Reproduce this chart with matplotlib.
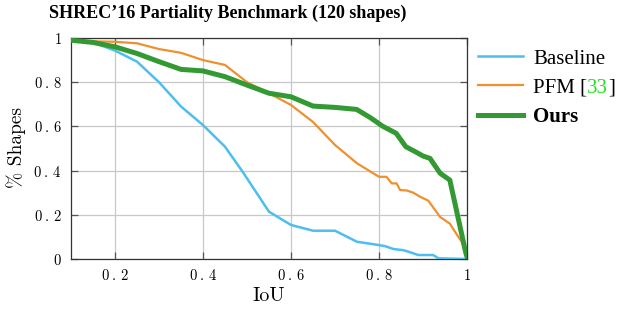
import matplotlib
matplotlib.use("Agg")
import matplotlib.pyplot as plt

plt.rcParams["mathtext.fontset"] = "cm"

iou_base = [0.10, 0.15, 0.20, 0.25, 0.30, 0.35, 0.40, 0.45, 0.49, 0.55, 0.60, 0.65, 0.70, 0.75, 0.80,
            0.814, 0.833, 0.855, 0.867, 0.889, 0.923, 0.935, 1.00]
val_base = [0.99, 0.98, 0.943, 0.893, 0.80, 0.69, 0.606, 0.508, 0.395, 0.214, 0.154, 0.128, 0.128, 0.078, 0.063,
            0.058, 0.045, 0.04, 0.033, 0.018, 0.018, 0.003, 0.0]

iou_pfm = [0.10, 0.15, 0.20, 0.25, 0.30, 0.35, 0.40, 0.45, 0.50, 0.55, 0.60, 0.65, 0.70, 0.75, 0.80,
           0.817, 0.829, 0.840, 0.848, 0.863, 0.878, 0.893, 0.912, 0.939, 0.961, 0.977, 0.988, 1.00]
val_pfm = [0.99, 0.985, 0.983, 0.976, 0.95, 0.933, 0.90, 0.878, 0.80, 0.75, 0.697, 0.62, 0.516, 0.433, 0.372,
           0.372, 0.342, 0.342, 0.312, 0.31, 0.30, 0.282, 0.264, 0.19, 0.16, 0.11, 0.078, 0.0]

iou_ours = [0.10, 0.15, 0.20, 0.25, 0.30, 0.35, 0.40, 0.45, 0.50, 0.55, 0.60, 0.65, 0.70, 0.749, 0.78,
            0.809, 0.839, 0.861, 0.882, 0.900, 0.916, 0.939, 0.961, 0.997, 1.00]
val_ours = [0.99, 0.98, 0.96, 0.93, 0.893, 0.858, 0.851, 0.825, 0.787, 0.75, 0.734, 0.692, 0.686, 0.677, 0.64,
            0.60, 0.569, 0.508, 0.486, 0.466, 0.455, 0.388, 0.357, 0.03, 0.01]

x_ticks = [0.2, 0.4, 0.6, 0.8, 1.0]
x_ticklabels = [r"$0\:.\:2$", r"$0\:.\:4$", r"$0\:.\:6$", r"$0\:.\:8$", r"$1$"]
y_ticks = [0, 0.2, 0.4, 0.6, 0.8, 1.0]
y_ticklabels = [r"$0$", r"$0\:.\:2$", r"$0\:.\:4$", r"$0\:.\:6$", r"$0\:.\:8$", r"$1$"]

W, H = 617, 313
fig = plt.figure(figsize=(W / 100, H / 100), dpi=100)
ax = fig.add_axes([71 / W, 1 - 259 / H, (467 - 71) / W, (259 - 38) / H])

c_base = "#4DBEEE"
c_pfm = "#EF9030"
c_ours = "#339933"

l1, = ax.plot(iou_base, val_base, color=c_base, lw=1.8, label="Baseline", zorder=3)
l2, = ax.plot(iou_pfm, val_pfm, color=c_pfm, lw=1.6, label="PFM [", zorder=3)
l3, = ax.plot(iou_ours, val_ours, color=c_ours, lw=3.6, label="Ours", zorder=4)

ax.set_xlim(0.1, 1.0)
ax.set_ylim(0, 1.0)
ax.set_xticks(x_ticks)
ax.set_xticklabels(x_ticklabels, fontsize=10.5)
ax.set_yticks(y_ticks)
ax.set_yticklabels(y_ticklabels, fontsize=10.5)
ax.grid(True, color="#c8c8c8", lw=0.9)
ax.set_axisbelow(True)
ax.tick_params(direction="in", length=5, width=0.9, color="#555555", top=True, right=True)
ax.tick_params(axis="y", pad=6.5)
ax.tick_params(axis="x", pad=6.5)
for s in ax.spines.values():
    s.set_color("#333333")
    s.set_linewidth(0.9)

fig.text(16 / W, 1 - 148 / H, "% Shapes", rotation=90, family="cmr10", fontsize=14,
         ha="center", va="center")
fig.text(269 / W, 1 - 296 / H, "IoU", family="cmr10", fontsize=14.5, ha="center", va="center")
fig.text(227.5 / W, 1 - 13 / H, "SHREC\u201916 Partiality Benchmark (120 shapes)",
         family="Liberation Serif", fontweight="bold", fontsize=13, ha="center", va="center")

FS = 15
leg = fig.legend(handles=[l1, l2, l3], loc="upper left", bbox_to_anchor=(478 / W, 1 - 49 / H),
                 frameon=False, prop={"family": "Liberation Serif", "size": FS},
                 handlelength=2.16, handletextpad=0.48, labelspacing=0.45, borderaxespad=0,
                 borderpad=0)
texts = leg.get_texts()
texts[2].set_fontweight("bold")

fig.canvas.draw()
r = fig.canvas.get_renderer()
inv = fig.transFigure.inverted()
tb = texts[1].get_window_extent(r)
ybase = texts[1].get_transform().transform(texts[1].get_position())[1]
t33 = fig.text(*inv.transform((tb.x1, ybase)), "33", color="#22E022", family="Liberation Serif",
               fontsize=FS, ha="left", va=texts[1].get_va())
fig.canvas.draw()
b33 = t33.get_window_extent(r)
fig.text(*inv.transform((b33.x1, ybase)), "]", family="Liberation Serif", fontsize=FS,
         ha="left", va=texts[1].get_va())

fig.savefig("out.png", dpi=100)
